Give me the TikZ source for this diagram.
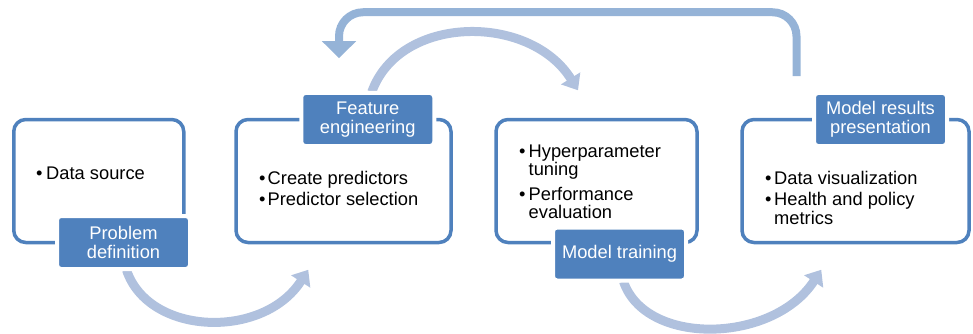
\documentclass[tikz,border=0pt]{standalone}
\usepackage{fontspec}
\setmainfont{Liberation Sans}
\usetikzlibrary{arrows.meta,calc,backgrounds}

\definecolor{accent}{HTML}{4F81BD}
\definecolor{loopblue}{HTML}{95B3D7}
\definecolor{arcblue}{HTML}{B0C1DE}

\newcommand\stagebullet[1]{\makebox[#1][l]{\textbullet}}

\tikzset{
  stagebox/.style={draw=accent, line width=3.5pt, fill=white, rounded corners=12pt,
    minimum height=123pt, inner sep=0pt},
  stagelabel/.style={fill=accent, draw=white, line width=4pt, rounded corners=4pt,
    minimum width=133pt, minimum height=53pt, inner sep=0pt, text=white, align=center,
    font=\fontsize{18.3pt}{19pt}\selectfont},
  itemtext/.style={anchor=base west, inner sep=0pt,
    font=\fontsize{18.3pt}{18pt}\selectfont},
  flowarc/.style={draw=arcblue, line width=9pt, -{Triangle[width=22pt,length=14pt]}},
  looparrow/.style={draw=loopblue, line width=8pt, rounded corners=24pt,
    -{Triangle[width=33pt,length=17pt]}},
}

\begin{document}
\begin{tikzpicture}[x=1pt, y=-1pt]
  \useasboundingbox (0,0) rectangle (973,334);

  % stage frames
  \node[stagebox, minimum width=170pt] (b1) at (98.75,181) {};
  \node[stagebox, minimum width=215pt] (b2) at (343.5,181) {};
  \node[stagebox, minimum width=201pt] (b3) at (596.5,181) {};
  \node[stagebox, minimum width=227pt] (b4) at (855.5,181) {};

  % stage contents
  \node[itemtext] (t1) at (36,179) {\begin{tabular}[t]{@{}l@{}l@{}}
    \stagebullet{10pt}&Data source\end{tabular}};
  \node[itemtext] (t2) at (259,184) {\begin{tabular}[t]{@{}l@{}l@{}}
    \stagebullet{8.5pt}&Create predictors\\[3pt]
    \stagebullet{8.5pt}&Predictor selection\end{tabular}};
  \node[itemtext] (t3) at (519,157) {\begin{tabular}[t]{@{}l@{}l@{}}
    \stagebullet{9.5pt}&Hyperparameter\\ &tuning\\[6pt]
    \stagebullet{9.5pt}&Performance\\ &evaluation\end{tabular}};
  \node[itemtext] (t4) at (765,184) {\begin{tabular}[t]{@{}l@{}l@{}}
    \stagebullet{9pt}&Data visualization\\[3pt]
    \stagebullet{9pt}&Health and policy\\ &metrics\end{tabular}};

  % stage titles
  \node[stagelabel] (l1) at (123.5,242.5) {Problem\\definition};
  \node[stagelabel] (l2) at (367.75,119.5) {Feature\\engineering};
  \node[stagelabel] (l3) at (619.5,254) {Model training};
  \node[stagelabel] (l4) at (880.5,119.5) {Model results\\presentation};

  % flow arrows, behind the stages
  \begin{scope}[on background layer]
    \draw[flowarc] ($(l1.south)+(3,-1)$)
      .. controls +(22,66) and +(-45,70) .. ($(b2.south west)+(74,25.5)$);
    \draw[flowarc] ($(l2.north)+(4,1)$)
      .. controls +(28,-78) and +(-48,-77) .. ($(b3.north)+(-18.5,-27.5)$);
    \draw[flowarc] ($(l3.south)+(4,-1)$)
      .. controls +(22,65) and +(-48,74) .. ($(b4.south west)+(81,25.5)$);
    \draw[looparrow] ($(b4.north)+(-59,-41.5)$) -- ++(0,-64)
      -| ($(b2.north)+(-4.5,-59.5)$);
  \end{scope}
\end{tikzpicture}
\end{document}
